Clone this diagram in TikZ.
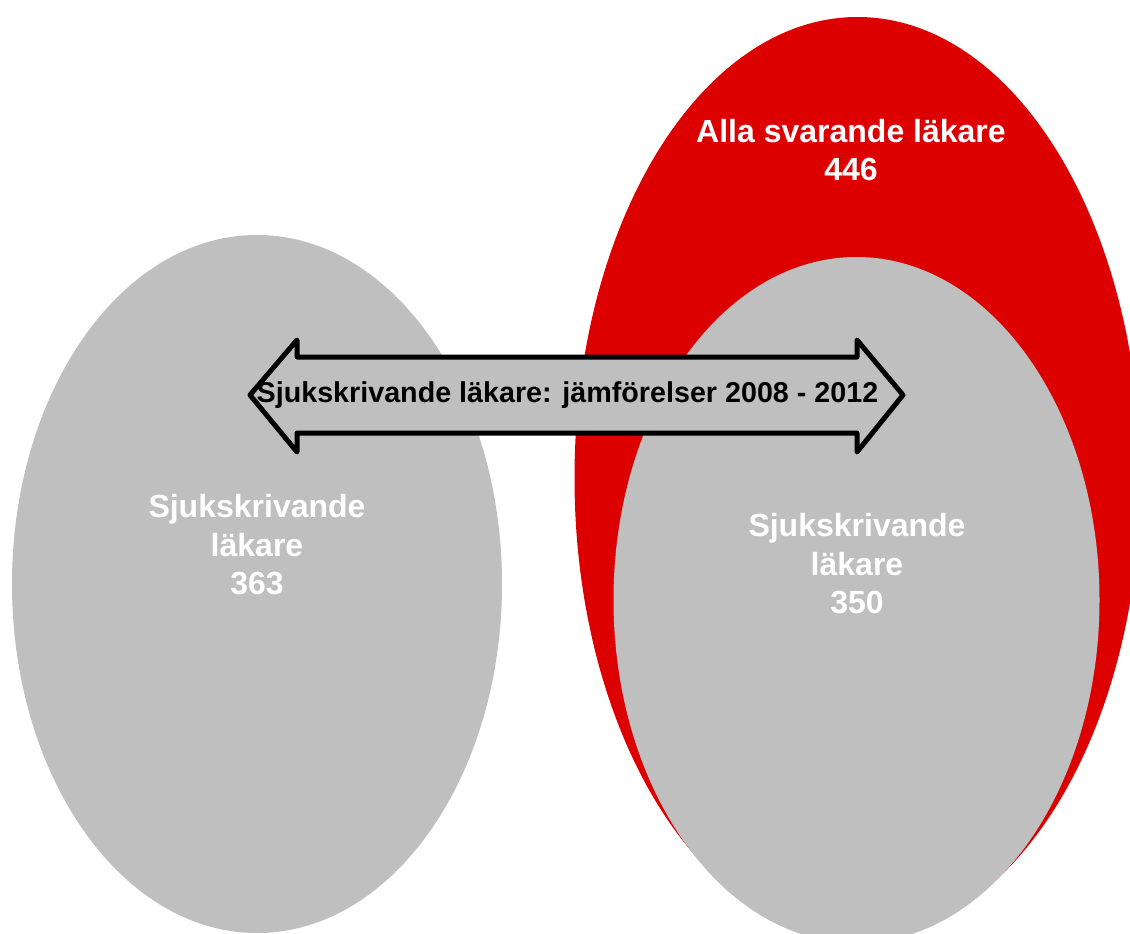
\documentclass[tikz,border=0pt]{standalone}
\usepackage{fontspec}
\setmainfont{Liberation Sans}
\definecolor{myred}{RGB}{220,0,0}
\definecolor{mygrey}{RGB}{191,191,191}
\tikzset{
  whitelabel/.style={text=white, font=\bfseries\fontsize{32}{38.5}\selectfont, align=center, inner sep=0pt},
  arrowlabel/.style={text=black, font=\bfseries\fontsize{28.7}{34}\selectfont, inner sep=0pt},
  bigarrow/.style={draw=black, fill=mygrey, line width=5pt, line join=round}
}
\begin{document}
\begin{tikzpicture}[x=1pt,y=-1pt]
\useasboundingbox (0,0) rectangle (1130,934);
\clip (0,0) rectangle (1130,934);
% left grey ellipse
\fill[mygrey] (257,584) ellipse [x radius=245, y radius=349];
% red ellipse
\fill[myred] (857.5,478) ellipse [x radius=283, y radius=461];
% inner grey ellipse
\fill[mygrey] (856.5,600) ellipse [x radius=243, y radius=343];
% double arrow
\draw[bigarrow] (250,395) -- (297,340) -- (297,357) -- (857,357) -- (857,340)
  -- (903,395) -- (857,452) -- (857,433) -- (297,433) -- (297,452) -- cycle;
\node[arrowlabel] (arr) at (567.5,395) {Sjukskrivande läkare: jämförelser 2008 - 2012};
% labels
\node[whitelabel] (all) at (851,150) {Alla svarande läkare\\446};
\node[whitelabel] (left) at (257,545) {Sjukskrivande\\läkare\\363};
\node[whitelabel] (right) at (857,564) {Sjukskrivande\\läkare\\350};
\end{tikzpicture}
\end{document}
